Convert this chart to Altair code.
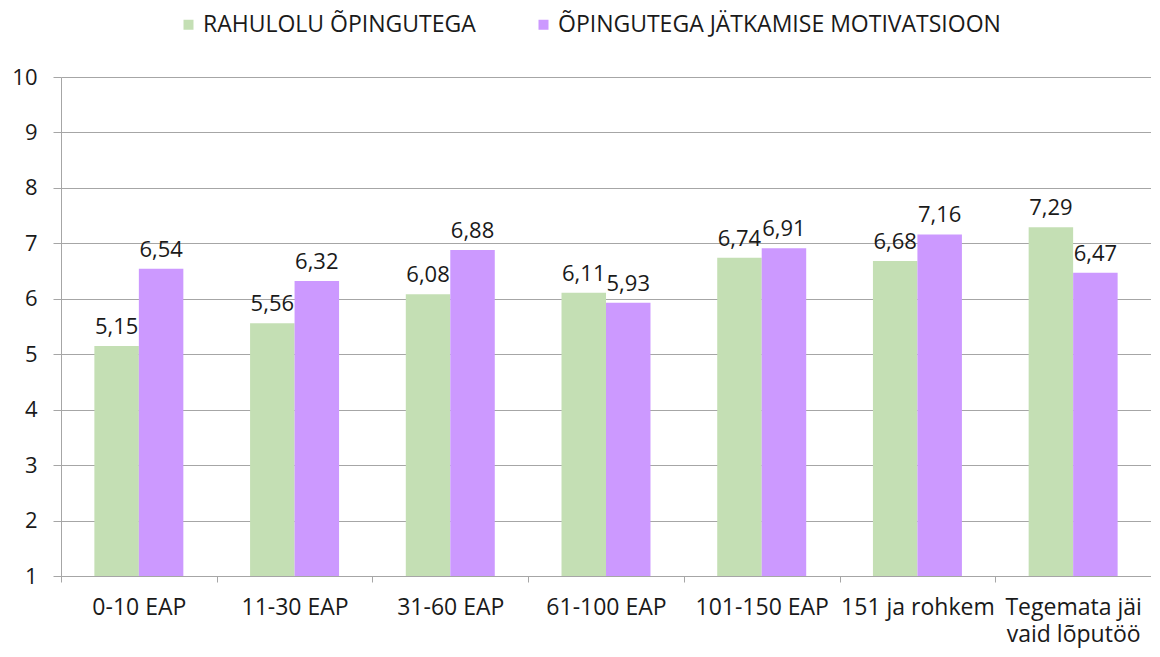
import altair as alt
import pandas as pd

categories = ["0-10 EAP", "11-30 EAP", "31-60 EAP", "61-100 EAP",
              "101-150 EAP", "151 ja rohkem", "Tegemata jäi vaid lõputöö"]
rahulolu = [5.15, 5.56, 6.08, 6.11, 6.74, 6.68, 7.29]
motivatsioon = [6.54, 6.32, 6.88, 5.93, 6.91, 7.16, 6.47]
series = ["RAHULOLU ÕPINGUTEGA", "ÕPINGUTEGA JÄTKAMISE MOTIVATSIOON"]
colors = ["#c4dfb4", "#cc99ff"]
y_ticks = [1, 2, 3, 4, 5, 6, 7, 8, 9, 10]

rows = []
for c, a, b in zip(categories, rahulolu, motivatsioon):
    rows.append({"cat": c, "series": series[0], "value": a})
    rows.append({"cat": c, "series": series[1], "value": b})
df = pd.DataFrame(rows)

FONT = "Open Sans"
TXT = "#1a1a1a"
GRAY = "#a6a6a6"

x = alt.X(
    "cat:N", sort=categories, title=None,
    scale=alt.Scale(paddingInner=0, paddingOuter=0),
    axis=alt.Axis(
        labelAngle=0, tickBand="extent", tickSize=6, labelPadding=14,
        labelFontSize=23, labelFont=FONT, labelColor=TXT,
        domainColor=GRAY, tickColor=GRAY, grid=False,
        labelLineHeight=27, labelLimit=300,
        labelExpr="datum.value == 'Tegemata jäi vaid lõputöö' ? ['Tegemata jäi', 'vaid lõputöö'] : datum.label",
    ),
)
xo = alt.XOffset("series:N", sort=series,
                 scale=alt.Scale(paddingOuter=0.75, paddingInner=0))
y = alt.Y(
    "value:Q", title=None,
    scale=alt.Scale(domain=[1, 10], nice=False, zero=False),
    axis=alt.Axis(values=y_ticks, tickSize=8, labelPadding=16, grid=True,
                  gridColor=GRAY, domainColor=GRAY, tickColor=GRAY,
                  labelFontSize=22, labelFont=FONT, labelColor=TXT, format="d"),
)

base = alt.Chart(df)
bars = base.mark_bar().encode(
    x=x, xOffset=xo, y=y, y2=alt.datum(1),
    color=alt.Color(
        "series:N", sort=series,
        scale=alt.Scale(domain=series, range=colors),
        legend=alt.Legend(
            title=None, orient="none", legendX=116, legendY=-64,
            direction="horizontal", symbolType="square", symbolSize=100,
            symbolStrokeWidth=0, labelFontSize=23, labelFont=FONT,
            labelColor=TXT, columnPadding=56, labelOffset=3, labelLimit=1000,
        ),
    ),
)
labels = base.transform_calculate(
    label="replace(format(datum.value, '.2f'), '.', ',')"
).mark_text(dy=-12, baseline="alphabetic", fontSize=22, font=FONT, color=TXT).encode(
    x=x, xOffset=xo, y=y, text="label:N"
)

chart = alt.layer(bars, labels).properties(
    width=1090, height=499,
    autosize=alt.AutoSizeParams(type="none"),
    padding={"left": 53, "top": 69, "right": 0, "bottom": 72},
).configure_view(stroke=None)

chart.save("out.html", embed_options={"renderer": "svg", "actions": False})
